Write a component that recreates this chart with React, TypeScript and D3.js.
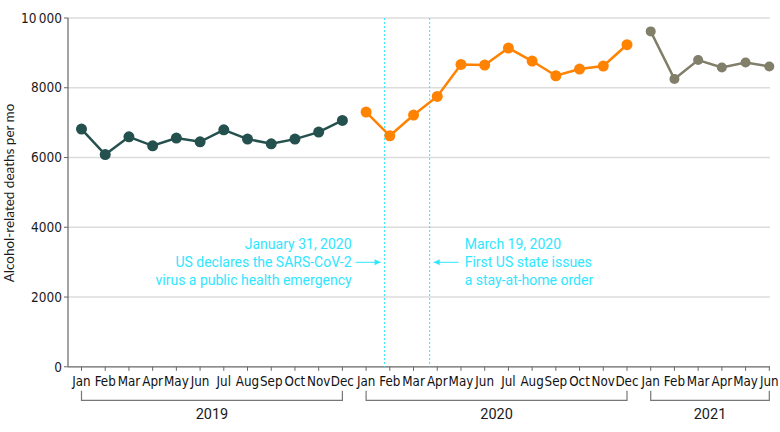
import React from "react";
import * as d3 from "d3";

const months = ["Jan","Feb","Mar","Apr","May","Jun","Jul","Aug","Sep","Oct","Nov","Dec"];
const years = ["2019", "2020", "2021"];
const values2019 = [6815, 6086, 6594, 6336, 6557, 6450, 6795, 6528, 6393, 6528, 6729, 7062];
const values2020 = [7303, 6623, 7217, 7751, 8669, 8651, 9139, 8766, 8344, 8536, 8623, 9234];
const values2021 = [9616, 8250, 8795, 8583, 8726, 8611];
const yTicks = [0, 2000, 4000, 6000, 8000, 10000];
const seriesColors = ["#24504e", "#ff8200", "#817e6a"];
const events = [
  { pos: 12.78, lines: ["January 31, 2020", "US declares the SARS-CoV-2", "virus a public health emergency"], side: "left" },
  { pos: 14.68, lines: ["March 19, 2020", "First US state issues", "a stay-at-home order"], side: "right" },
];

const W = 780, H = 432;
const left = 68, top = 18, bottom = 366.8, right = 770;
const tickFont = "'DejaVu Sans Condensed', 'DejaVu Sans', sans-serif";
const annFont = "Roboto, sans-serif";

export default function App() {
  const series = [values2019, values2020, values2021];
  const allMonths: string[] = [];
  series.forEach((s) => s.forEach((_, i) => allMonths.push(months[i])));
  const offsets = [0, 12, 24];

  const x = d3.scaleLinear().domain([0, 29]).range([81.5, 769.3]);
  const y = d3.scaleLinear().domain([0, 10000]).range([bottom, top]);
  const cyan = "#2fe6ff";

  return (
    <div style={{ position: "absolute", left: 0, top: 0, width: W, height: H, overflow: "hidden" }}>
      <svg width={W} height={H} style={{ display: "block", background: "#fff" }}>
        {yTicks.map((t) => (
          <g key={t}>
            {t > 0 && <line x1={left} x2={right} y1={y(t)} y2={y(t)} stroke="#dcdcdc" strokeWidth={1.5} />}
            <line x1={left - 4} x2={left} y1={y(t)} y2={y(t)} stroke="#666" strokeWidth={1} />
            <text x={left - 6} y={y(t)} dy="0.35em" textAnchor="end" fontFamily={tickFont} fontSize={13.5} fill="#1a1a1a">
              {t === 10000 ? "10\u2009000" : String(t)}
            </text>
          </g>
        ))}
        <line x1={left} x2={left} y1={top} y2={bottom} stroke="#666" strokeWidth={1.2} />
        <line x1={left} x2={right} y1={bottom} y2={bottom} stroke="#666" strokeWidth={1.2} />
        {allMonths.map((m, i) => (
          <g key={i}>
            <line x1={x(i)} x2={x(i)} y1={bottom} y2={bottom + 4} stroke="#666" strokeWidth={1} />
            <text x={x(i)} y={bottom + 19} textAnchor="middle" fontFamily={tickFont} fontSize={13.3} fill="#111">{m}</text>
          </g>
        ))}
        {years.map((yr, k) => {
          const a = x(offsets[k]);
          const b = x(offsets[k] + series[k].length - 1);
          return (
            <g key={yr}>
              <path d={`M${a},${bottom + 24}V${bottom + 33.5}H${b}V${bottom + 24}`} fill="none" stroke="#777" strokeWidth={1.2} />
              <text x={(a + b) / 2} y={bottom + 52} textAnchor="middle" fontFamily={annFont} fontSize={14.5} fill="#1a1a1a">{yr}</text>
            </g>
          );
        })}
        <text transform={`translate(14,193) rotate(-90)`} textAnchor="middle" fontFamily="Lato, sans-serif" fontSize={13.5} fill="#1a1a1a">
          Alcohol-related deaths per mo
        </text>
        {events.map((e, k) => {
          const ex = x(e.pos);
          const isLeft = e.side === "left";
          const ax1 = isLeft ? ex - 29 : ex + 29;
          const ax2 = isLeft ? ex - 4 : ex + 4;
          const tx = isLeft ? ex - 33 : ex + 35;
          return (
            <g key={k}>
              <line x1={ex} x2={ex} y1={top} y2={bottom} stroke={cyan} strokeWidth={1} strokeDasharray="2,2" />
              <line x1={ax1} x2={ax2} y1={262.3} y2={262.3} stroke={cyan} strokeWidth={1} />
              <path d={isLeft ? `M${ax2},262.3l-6,-3v6z` : `M${ax2},262.3l6,-3v6z`} fill={cyan} />
              {e.lines.map((l, j) => (
                <text key={j} x={tx} y={244.3 + j * 18} dy="0.35em" textAnchor={isLeft ? "end" : "start"} fontFamily={annFont} fontSize={14} fill={cyan}>{l}</text>
              ))}
            </g>
          );
        })}
        {series.map((s, k) => {
          const lg = d3.line<number>().x((_, i) => x(offsets[k] + i)).y((d) => y(d));
          return (
            <g key={k}>
              <path d={lg(s) || ""} fill="none" stroke={seriesColors[k]} strokeWidth={2.5} />
              {s.map((v, i) => (
                <circle key={i} cx={x(offsets[k] + i)} cy={y(v)} r={k === 2 ? 5 : 5.5} fill={seriesColors[k]} />
              ))}
            </g>
          );
        })}
      </svg>
    </div>
  );
}
